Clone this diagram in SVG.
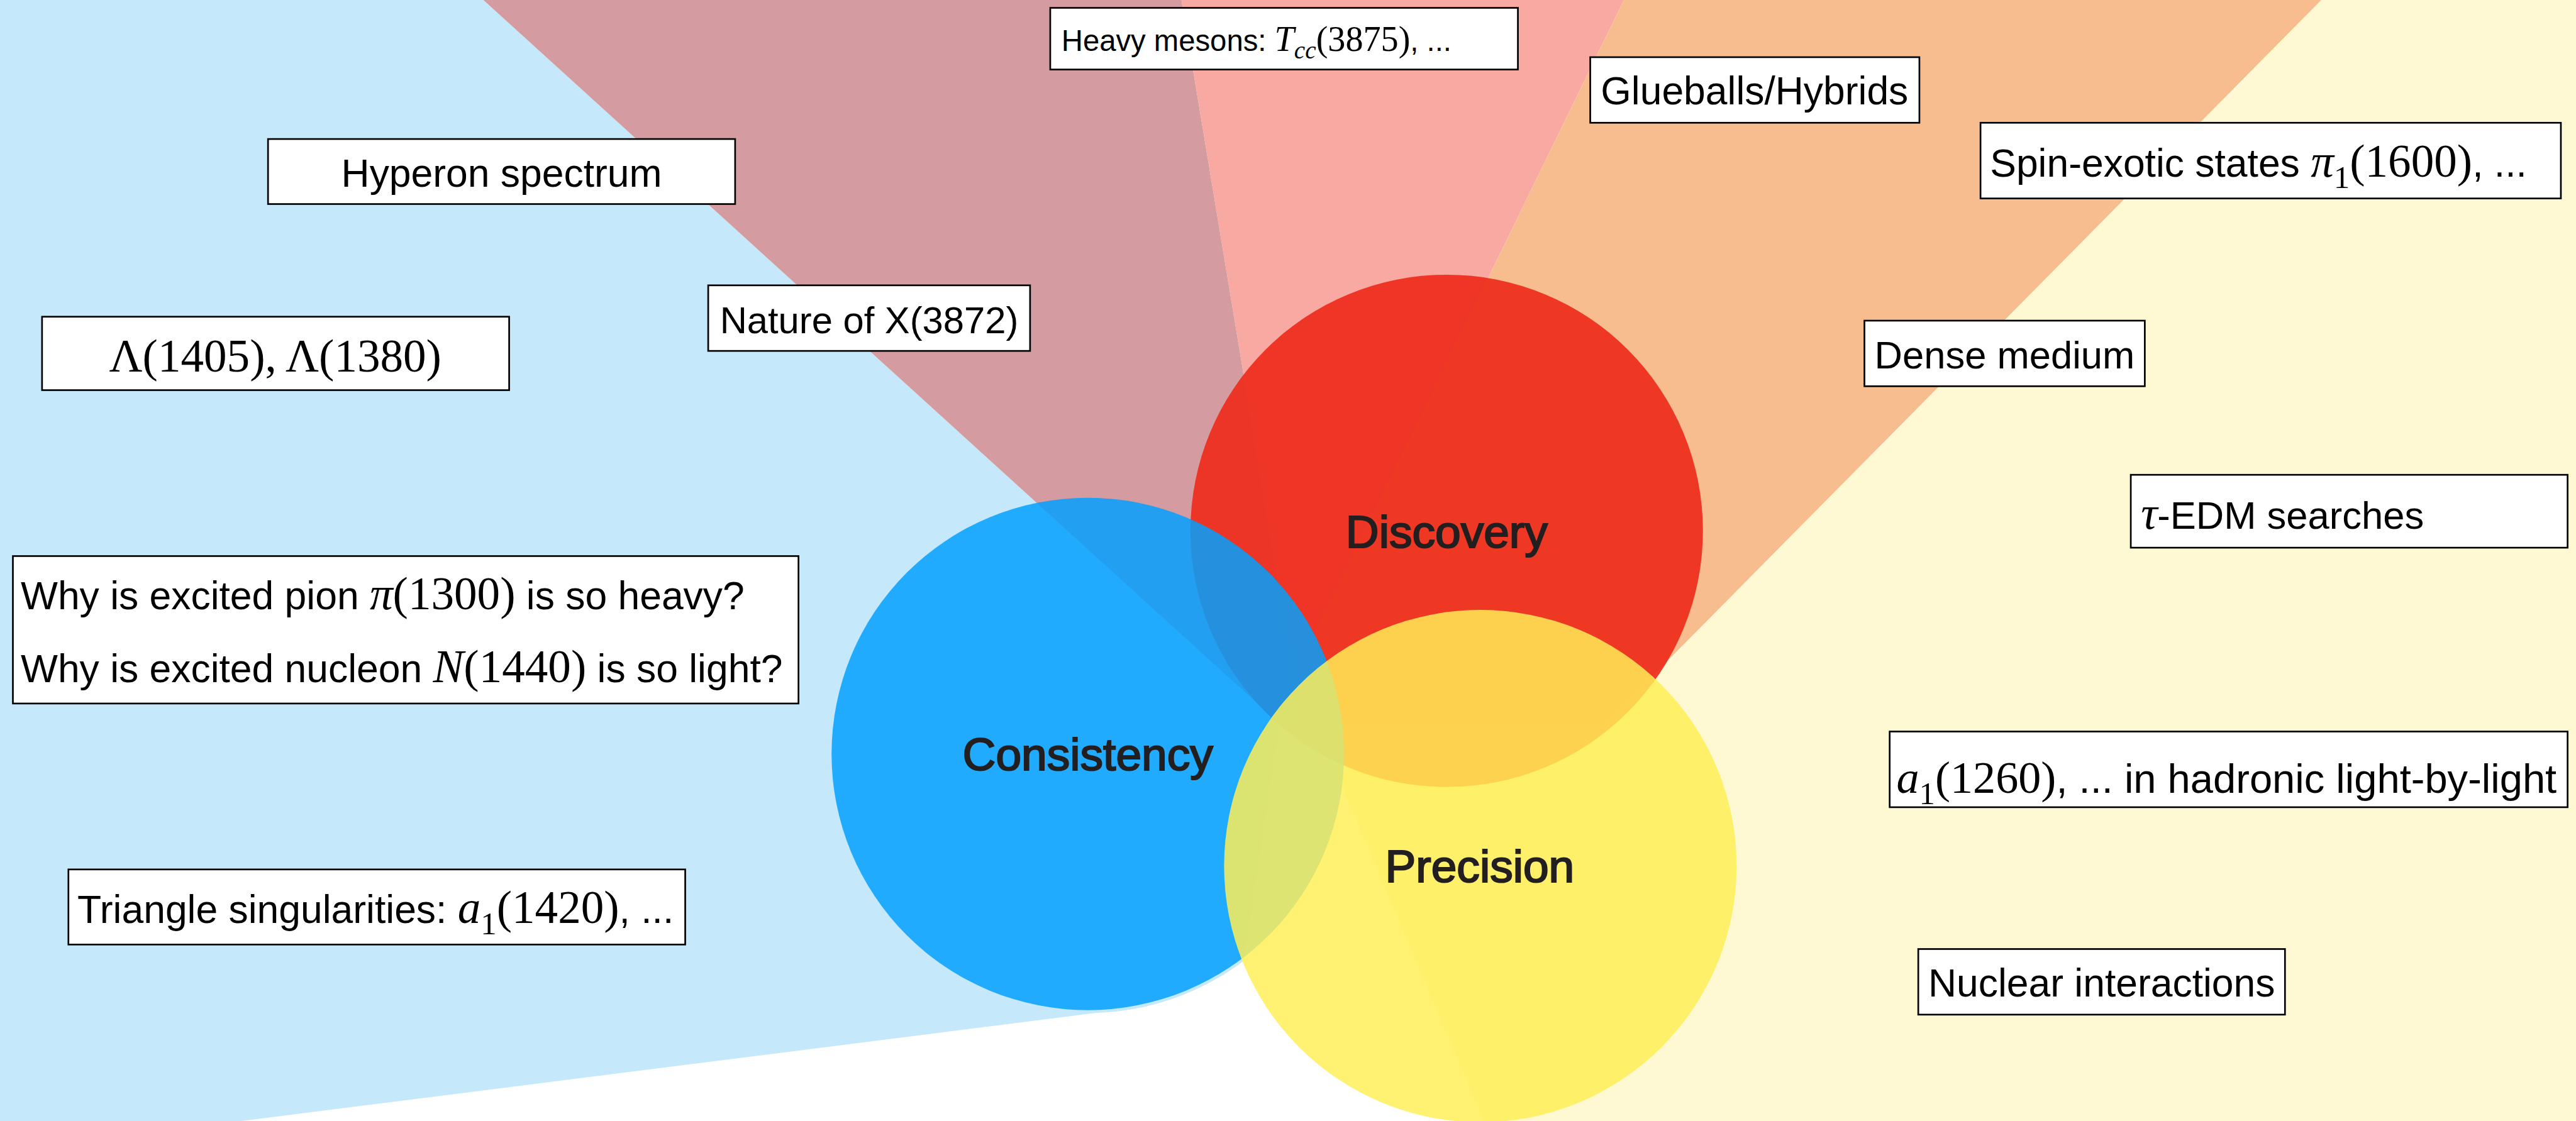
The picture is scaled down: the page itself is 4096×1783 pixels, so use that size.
<svg xmlns="http://www.w3.org/2000/svg" width="4096" height="1783" viewBox="0 0 4096 1783">
<style>
.box{fill:#ffffff;stroke:#000000;stroke-width:3}
.s{font-family:"Liberation Sans",Arial,Helvetica,sans-serif;fill:#000}
.m{font-family:"Liberation Serif","Times New Roman",serif;fill:#000}
.i{font-style:italic}
.venn{font-family:"Liberation Sans",Arial,Helvetica,sans-serif;font-size:82px;fill:#231f20;stroke:#231f20;stroke-width:2.5;text-anchor:middle}
.mid{text-anchor:middle}
</style>
<rect x="0" y="0" width="4096" height="1783" fill="#ffffff"/>
<g transform="scale(0.8916)">
  <g id="wedges">
    <path id="wedge-blue" d="M0,0 L862,0 L2281,1290 L2217,1715 A462,462 0 0 1 1955,1807 L429,2000 L0,2000 Z" fill="#c6e8fb"/>
    <path id="wedge-brown" d="M862,0 L2107,0 L2321,1290 L2281,1290 Z" fill="#d49ca0"/>
    <path id="wedge-pink" d="M2107,0 L2896,0 L2307,1207 Z" fill="#f8a9a1"/>
    <path id="wedge-orange" d="M2896,0 L4140,0 L2864,1290 L2321,1290 L2307,1207 Z" fill="#f8bd8e"/>
    <path id="wedge-yellow" d="M4140,0 L4594,0 L4594,2000 L2646,2000 L2346,1290 L2864,1290 Z" fill="#fef9d3"/>
  </g>
  <g id="node-discovery">
    <circle cx="2580" cy="947" r="457" fill="#ee2c1b" fill-opacity="0.92"/>
  </g>
  <g id="node-consistency">
    <circle cx="1940" cy="1345" r="457" fill="#02a0fe" fill-opacity="0.85"/>
  </g>
  <g id="node-precision">
    <circle cx="2640" cy="1545" r="457" fill="#ffee57" fill-opacity="0.845"/>
  </g>
  <g id="venn-labels">
    <text class="venn" x="2580" y="977">Discovery</text>
    <text class="venn" x="1940" y="1374">Consistency</text>
    <text class="venn" x="2639" y="1574">Precision</text>
  </g>
  <g id="connectors"></g>

  <g id="node-heavy-mesons">
    <rect class="box" x="1873" y="14" width="834" height="110"/>
    <text x="1893" y="91"><tspan class="s" font-size="53">Heavy mesons: </tspan><tspan class="m i" font-size="63">T</tspan><tspan class="m i" font-size="44" dy="13">cc</tspan><tspan class="m" font-size="63" dy="-13">(3875)</tspan><tspan class="s" font-size="53">, ...</tspan></text>
  </g>
  <g id="node-hyperon">
    <rect class="box" x="478" y="248" width="833" height="116"/>
    <text class="s mid" x="894.5" y="333" font-size="70">Hyperon spectrum</text>
  </g>
  <g id="node-lambda">
    <rect class="box" x="75" y="565" width="833" height="131"/>
    <text class="m mid" x="491" y="663" font-size="82">Λ(1405), Λ(1380)</text>
  </g>
  <g id="node-x3872">
    <rect class="box" x="1263" y="509" width="574" height="117"/>
    <text class="s mid" x="1550" y="594" font-size="67">Nature of X(3872)</text>
  </g>
  <g id="node-glueballs">
    <rect class="box" x="2836" y="102" width="587" height="117"/>
    <text class="s mid" x="3129" y="186" font-size="70">Glueballs/Hybrids</text>
  </g>
  <g id="node-spin-exotic">
    <rect class="box" x="3532" y="219" width="1035" height="135"/>
    <text x="3549" y="315"><tspan class="s" font-size="70">Spin-exotic states </tspan><tspan class="m i" font-size="82">π</tspan><tspan class="m" font-size="57" dy="20">1</tspan><tspan class="m" font-size="82" dy="-20">(1600)</tspan><tspan class="s" font-size="70">, ...</tspan></text>
  </g>
  <g id="node-dense">
    <rect class="box" x="3325" y="572" width="500" height="117"/>
    <text class="s mid" x="3575" y="657" font-size="69">Dense medium</text>
  </g>
  <g id="node-tau-edm">
    <rect class="box" x="3800" y="847" width="779" height="130"/>
    <text x="3818" y="943"><tspan class="m i" font-size="82">τ</tspan><tspan class="s" font-size="69">-EDM searches</tspan></text>
  </g>
  <g id="node-a1-hlbl">
    <rect class="box" x="3370" y="1305" width="1209" height="135"/>
    <text x="3382" y="1414"><tspan class="m i" font-size="81">a</tspan><tspan class="m" font-size="57" dy="20">1</tspan><tspan class="m" font-size="81" dy="-20">(1260)</tspan><tspan class="s" font-size="73">, ... in hadronic light-by-light</tspan></text>
  </g>
  <g id="node-nuclear">
    <rect class="box" x="3421" y="1693" width="654" height="117"/>
    <text class="s mid" x="3748" y="1778" font-size="70">Nuclear interactions</text>
  </g>
  <g id="node-why">
    <rect class="box" x="23" y="992" width="1401" height="263"/>
    <text x="37" y="1087"><tspan class="s" font-size="70">Why is excited pion </tspan><tspan class="m i" font-size="82">π</tspan><tspan class="m" font-size="82">(1300)</tspan><tspan class="s" font-size="70"> is so heavy?</tspan></text>
    <text x="37" y="1217"><tspan class="s" font-size="70">Why is excited nucleon </tspan><tspan class="m i" font-size="82">N</tspan><tspan class="m" font-size="82">(1440)</tspan><tspan class="s" font-size="70"> is so light?</tspan></text>
  </g>
  <g id="node-triangle">
    <rect class="box" x="122" y="1551" width="1100" height="134"/>
    <text x="138" y="1647"><tspan class="s" font-size="70">Triangle singularities: </tspan><tspan class="m i" font-size="82">a</tspan><tspan class="m" font-size="57" dy="20">1</tspan><tspan class="m" font-size="82" dy="-20">(1420)</tspan><tspan class="s" font-size="70">, ...</tspan></text>
  </g>
</g>
</svg>
